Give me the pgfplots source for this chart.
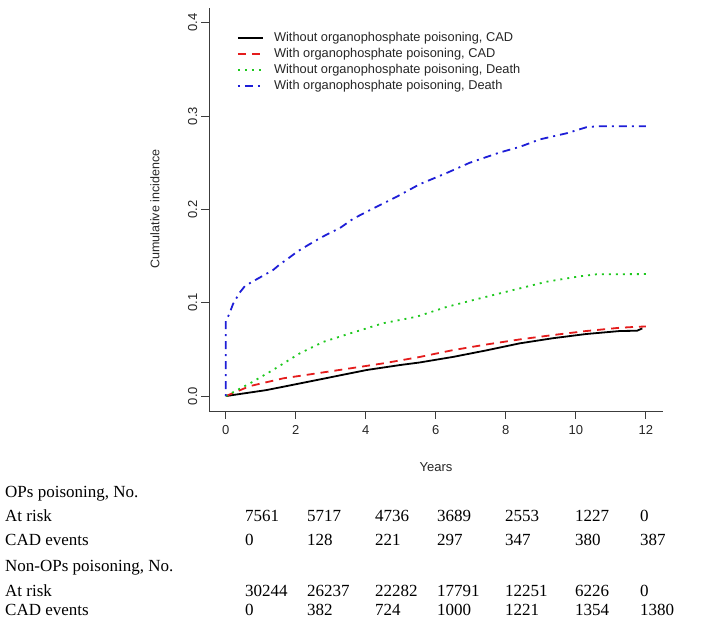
\documentclass[border=0pt]{standalone}
\usepackage{fontspec}
\setmainfont{Liberation Serif}
\newfontfamily\arial{Liberation Sans}
\usepackage{pgfplots}
\pgfplotsset{compat=1.18}
\definecolor{rred}{RGB}{228,28,28}
\definecolor{rgreen}{RGB}{30,200,30}
\definecolor{rblue}{RGB}{30,30,215}
\definecolor{axgray}{RGB}{60,60,60}
\begin{document}
\begin{tikzpicture}[x=1pt,y=1pt]
\useasboundingbox (0,0) rectangle (705,-618);
\begin{axis}[
  at={(209pt,-411pt)}, anchor=south west,
  scale only axis, width=453.6pt, height=403.2pt,
  xmin=-0.48, xmax=12.48, ymin=-0.016, ymax=0.416,
  axis x line*=bottom, axis y line*=left,
  axis line style={axgray, line width=0.9pt, -},
  xtick={0,2,...,12}, ytick={0,0.1,0.2,0.3,0.4},
  yticklabels={0.0,0.1,0.2,0.3,0.4},
  tick align=outside, major tick length=7.5pt,
  tick style={axgray, line width=0.9pt},
  /pgf/number format/assume math mode=true,
  ticklabel style={font=\arial\fontsize{13}{15}\selectfont, text=black!85},
  yticklabel style={rotate=90, anchor=south, inner sep=4pt},
  xticklabel style={anchor=north, yshift=-3pt, text height=9.5pt, text depth=0pt},
  legend cell align=left,
  legend image code/.code={\draw[#1] (0pt,0pt) -- (25pt,0pt);},
  legend style={draw=none, fill=none, at={(0.0617,0.945)}, anchor=north west,
    inner sep=0pt, outer sep=0pt,
    font=\arial\fontsize{12.8}{14}\selectfont, row sep=0pt,
    nodes={inner sep=1.25pt, text height=10pt, text depth=3.5pt, text=black!85},
    /tikz/every odd column/.append style={column sep=9pt}},
  every axis plot/.append style={line width=1.8pt, line join=round},
]
\addplot[black] coordinates {
(0,0) (1.16,0.0064) (2.59,0.0171) (4.02,0.0279) (4.97,0.0332) (5.54,0.036)
(6.5,0.042) (7.45,0.049) (8.4,0.0565) (9.35,0.062) (10.3,0.0665) (11.26,0.0697)
(11.75,0.0700) (11.9,0.0725)};
\addlegendentry{Without organophosphate poisoning, CAD}
\addplot[rred, dash pattern=on 8pt off 6pt] coordinates {
(0,0) (0.69,0.0107) (1.64,0.019) (2.59,0.0243) (3.54,0.0296) (4.49,0.035)
(5.5,0.0416) (6.5,0.0493) (7.45,0.0553) (8.4,0.0607) (9.35,0.0654) (10.3,0.0697)
(11.26,0.0732) (11.78,0.0743) (12,0.0745)};
\addlegendentry{With organophosphate poisoning, CAD}
\addplot[rgreen, dash pattern=on 2pt off 5pt] coordinates {
(0,0) (0.69,0.0136) (1.35,0.028) (2.11,0.0457) (2.78,0.058) (3.54,0.067)
(4.49,0.078) (5.45,0.085) (6.31,0.0955) (7.26,0.1047) (8.21,0.1136) (9.16,0.1225)
(10.11,0.1283) (10.6,0.1305) (12,0.1307)};
\addlegendentry{Without organophosphate poisoning, Death}
\addplot[rblue, dash pattern=on 2pt off 5pt on 8pt off 5pt] coordinates {
(0,0) (0,0.081) (0.09,0.087) (0.21,0.099) (0.4,0.111) (0.55,0.118) (0.97,0.127)
(1.35,0.135) (1.54,0.141) (1.73,0.146) (2.05,0.155) (2.54,0.166) (2.88,0.173)
(3.26,0.180) (3.64,0.190) (4.21,0.201) (4.88,0.2135) (5.54,0.227) (6.31,0.239)
(6.97,0.250) (7.83,0.261) (8.4,0.267) (8.97,0.275) (9.73,0.2815) (10.3,0.288)
(10.59,0.289) (12,0.289)};
\addlegendentry{With organophosphate poisoning, Death}
\end{axis}
\node[font=\arial\fontsize{13}{15}\selectfont, text=black!85] at (436,-467) {Years};
\node[font=\arial\fontsize{12.5}{14}\selectfont, text=black!85, rotate=90] at (155,-209) {Cumulative incidence};
\begin{scope}[every node/.style={anchor=base west, inner sep=0pt, font=\fontsize{17}{19}\selectfont}]
\node at (5,-497) {OPs poisoning, No.};
\node at (5,-521) {At risk};
\node at (5,-545) {CAD events};
\node at (5,-571) {Non-OPs poisoning, No.};
\node at (5,-596) {At risk};
\node at (5,-615) {CAD events};
\foreach \x/\a/\b/\c/\d in {245/7561/0/30244/0, 307/5717/128/26237/382, 375/4736/221/22282/724,
  437/3689/297/17791/1000, 505/2553/347/12251/1221, 575/1227/380/6226/1354, 640/0/387/0/1380}{
  \node at (\x,-521) {\a};
  \node at (\x,-545) {\b};
  \node at (\x,-596) {\c};
  \node at (\x,-615) {\d};
}
\end{scope}
\end{tikzpicture}
\end{document}
